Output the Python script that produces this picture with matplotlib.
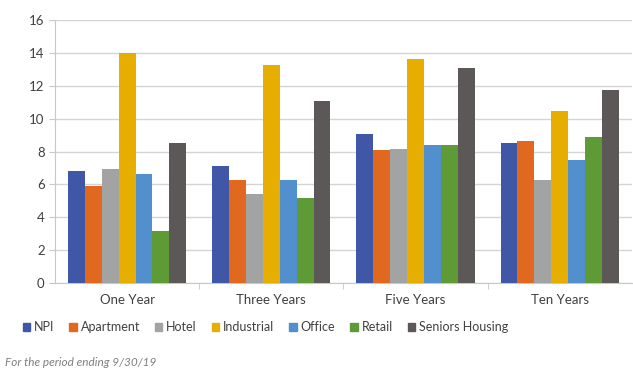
import numpy as np
import matplotlib.pyplot as plt
from matplotlib.patches import Patch

plt.rcParams['font.family'] = ['Lato', 'DejaVu Sans']

periods = ['One Year', 'Three Years', 'Five Years', 'Ten Years']
sectors = ['NPI', 'Apartment', 'Hotel', 'Industrial', 'Office', 'Retail', 'Seniors Housing']
npi = [6.8, 7.1, 9.1, 8.5]
apartment = [5.9, 6.3, 8.1, 8.65]
hotel = [6.95, 5.45, 8.15, 6.3]
industrial = [14.0, 13.3, 13.65, 10.45]
office = [6.65, 6.3, 8.4, 7.5]
retail = [3.2, 5.15, 8.4, 8.9]
seniors = [8.5, 11.1, 13.1, 11.75]
colors = ['#3F57A6', '#E0691F', '#A3A3A3', '#E6AE00', '#5190CD', '#5E9B37', '#5C5858']

series = [npi, apartment, hotel, industrial, office, retail, seniors]

fig = plt.figure(figsize=(6.33, 3.73), dpi=100)
ax = fig.add_axes([0.087, 0.241, 0.911, 0.705])

x = np.arange(len(periods))
w = 0.82 / len(series)
for i, (vals, c) in enumerate(zip(series, colors)):
    ax.bar(x + (i - 3) * w, vals, width=w, color=c, zorder=3)

ax.set_xlim(-0.5, len(periods) - 0.5)
ax.set_ylim(0, 16)
ax.set_yticks(range(0, 17, 2))
ax.grid(axis='y', color='#d4d4d4', linewidth=1, zorder=0)
ax.set_xticks(x)
ax.set_xticklabels(periods, fontsize=9.5, color='#404040')
ax.set_xticks(np.arange(0.5, len(periods) - 0.5, 1), minor=True)
ax.tick_params(axis='x', which='major', length=0, pad=8)
ax.tick_params(axis='x', which='minor', length=4, color='#c8c8c8')
ax.tick_params(axis='y', length=4, color='#c8c8c8', labelsize=9.5, labelcolor='#404040')
for s in ['top', 'right']:
    ax.spines[s].set_visible(False)
ax.spines['left'].set_color('#c8c8c8')
ax.spines['bottom'].set_color('#c8c8c8')

handles = [Patch(color=c, label=s) for c, s in zip(colors, sectors)]
fig.legend(handles=handles, loc='center left', bbox_to_anchor=(0.018, 0.123), ncol=7,
           frameon=False, fontsize=9, handlelength=0.6, handleheight=0.6,
           handletextpad=0.3, columnspacing=1.2, labelcolor='#404040')

fig.text(0.008, 0.02, 'For the period ending 9/30/19', fontsize=8.5, style='italic', color='#7f7f7f')

fig.savefig('out.png', dpi=100)
